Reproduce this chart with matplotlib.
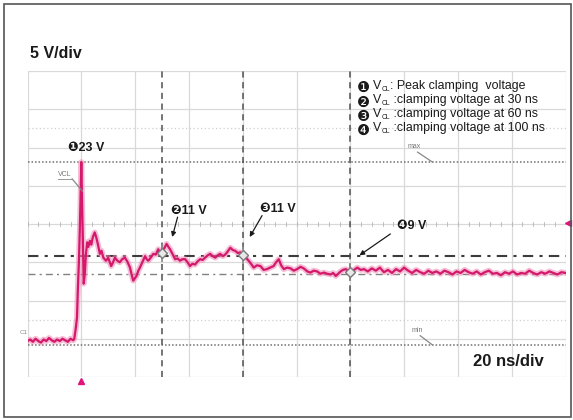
import matplotlib
matplotlib.use("Agg")
import matplotlib.pyplot as plt
from matplotlib.patches import Rectangle
import numpy as np

plt.rcParams['font.family'] = ['Liberation Sans', 'DejaVu Sans']

# ---------------- data (time in ns, voltage in V) ----------------
t_trace = [0, 1, 2, 3, 4, 5, 6, 7, 8, 9, 10, 11, 12, 13, 14, 15, 16, 17,
           17.4, 18.0, 18.4, 18.7, 19.1, 19.4, 19.7, 20.0, 20.2, 20.5, 20.9,
           21.3, 21.7, 22.2, 22.6, 23.2, 23.7, 24.3, 25.0, 25.6, 26.2, 26.9,
           27.5, 28.2, 29.2, 30.0, 31.1, 31.8, 32.5, 33.4, 34.3, 35.2, 36.2,
           37.1, 38.1, 38.7, 39.3, 39.9, 40.5, 41.2, 41.8, 42.7, 43.7, 44.3,
           44.9, 45.8, 46.8, 47.7, 48.6, 49.3, 49.9, 50.8, 51.7, 52.4, 53.0,
           54.0, 54.9, 55.8, 56.7, 57.6, 58.6, 59.5, 60.4, 61.3, 62.3, 63.2,
           64.2, 65.1, 66.0, 67.0, 67.9, 68.8, 69.8, 70.7, 71.6, 72.6, 73.5,
           74.4, 75.4, 76.3, 77.2, 78.2, 79.1, 80.3, 81.2, 82.2, 83.1, 84.1,
           85.3, 86.6, 87.8, 89.0, 90.2, 91.5, 92.4, 93.4, 94.3, 95.3, 96.5,
           97.8, 99.0, 100.2, 101.5, 102.7, 104.0, 105.2, 106.4, 107.7, 108.9,
           110.2, 111.4, 112.7, 113.6, 114.6, 115.5, 116.4, 117.3, 118.3,
           119.2, 120.2, 121.4, 122.6, 123.9, 125.1,
           126.5, 128, 129.5, 131, 132.5, 134, 135.5, 137, 138.5, 140, 141.5,
           143, 144.5, 146, 147.5, 149, 150.5, 152, 153.5, 155, 156.5, 158,
           159.5, 161, 162.5, 164, 165.5, 167, 168.5, 170, 171.5, 173, 174.5,
           176, 177.5, 179, 180.5, 182, 183.5, 185, 186.5, 188, 189.5, 191,
           192.5, 194, 195.5, 197, 198.5, 200]
v_trace = [-0.3, -0.1, -0.4, 0.0, -0.3, -0.5, -0.1, -0.3, 0.1, -0.2, -0.4,
           -0.1, -0.3, 0.0, -0.2, -0.4, 0.0, -0.2,
           0.0, 1.5, 2.8, 6.3, 10.0, 13.7, 18.0, 23.1, 19.5, 14.0, 7.2,
           8.5, 11.0, 12.6, 12.0, 12.8, 12.3, 13.3, 13.9, 13.2, 12.3, 11.1,
           11.5, 10.6, 10.2, 10.6, 9.5, 10.0, 10.6, 10.2, 10.0, 10.4, 10.6,
           10.1, 9.3, 8.4, 7.6, 7.9, 8.2, 8.9, 9.3, 10.0, 10.8, 10.4,
           10.2, 10.6, 11.1, 11.0, 11.7, 11.2, 11.5, 11.8, 12.4, 12.0, 11.7,
           11.0, 10.4, 10.5, 10.2, 10.4, 10.4, 10.0, 9.5, 9.8, 9.7, 10.1,
           10.4, 10.3, 10.6, 10.9, 11.1, 10.8, 10.6, 10.9, 11.1, 10.8, 11.0,
           11.4, 11.9, 11.6, 11.5, 11.2, 11.3, 11.0, 10.6, 10.2, 9.8, 9.3,
           9.6, 9.5, 9.0, 9.1, 9.3, 9.5, 10.0, 10.4, 9.6, 9.1, 9.3,
           9.2, 8.9, 9.1, 9.4, 9.2, 8.8, 8.65, 8.9, 8.8, 8.5,
           8.65, 8.5, 8.4, 8.6, 8.2, 8.5, 8.8, 9.0, 9.1,
           8.9, 8.7, 9.0, 9.3, 9.0, 9.1,
           8.8, 9.2, 8.9, 9.3, 8.7, 9.0, 8.6, 9.1, 8.8, 9.3, 8.9,
           8.6, 9.0, 8.7, 8.5, 8.9, 8.6, 8.8, 8.5, 8.9, 8.7, 8.4,
           8.8, 8.6, 9.0, 8.7, 8.5, 8.8, 8.4, 8.7, 8.9, 8.5, 8.6,
           8.3, 8.7, 8.5, 8.8, 8.4, 8.6, 8.5, 8.9, 8.6, 8.4, 8.7,
           8.5, 8.8, 8.6, 8.4, 8.7, 8.6]

cursor_times = [50, 80, 120]
cursor_volts = [11.2, 10.9, 8.7]
level_max = 23.1
level_min = -0.8
level_dash1 = 10.8
level_dash2 = 8.45

annot_labels = ["\u277623 V", "\u277711 V", "\u277811 V", "\u27799 V"]
legend_marks = ["\u2776", "\u2777", "\u2778", "\u2779"]
legend_rest = [": Peak clamping  voltage",
               " :clamping voltage at 30 ns",
               " :clamping voltage at 60 ns",
               " :clamping voltage at 100 ns"]

# ---------------- figure ----------------
fig = plt.figure(figsize=(5.73, 4.2), dpi=100)
fig.patch.set_facecolor('white')
ax = fig.add_axes([27.5/573, 1-377/420, 538/573, 306/420])
ax.set_xlim(0, 200)
ax.set_ylim(-5, 35)
ax.axis('off')

# frame of the whole picture
fig.add_artist(Rectangle((4/573, 3/420), 567/573, 413/420, transform=fig.transFigure,
                         fill=False, edgecolor='#555555', linewidth=1.2))

gcol = '#d9d9d9'
for xg in np.arange(0, 201, 20):
    ax.axvline(xg, color=gcol, lw=0.9, zorder=1)
for yg in np.arange(-5, 36, 5):
    ax.axhline(yg, color=gcol, lw=0.9, zorder=1)
# centre horizontal line with faint minor ticks
for xt in np.arange(0, 201, 4):
    ax.plot([xt, xt], [14.75, 15.25], color='#b5b5b5', lw=0.6, zorder=1)
# faint dotted lines
for yf in [27.5, 2.4]:
    ax.axhline(yf, color='#cfcfcf', lw=0.9, ls=(0, (1, 2)), zorder=1)

# max / min dotted lines
ax.axhline(level_max, color='#707070', lw=1.1, ls=(0, (1, 1.3)), zorder=2)
ax.axhline(level_min, color='#707070', lw=1.1, ls=(0, (1, 1.3)), zorder=2)
# dash-dot lines
ax.axhline(level_dash1, color='#3c3c3c', lw=1.5, ls=(0, (5, 3, 1.5, 3)), zorder=2)
ax.axhline(level_dash2, color='#808080', lw=1.0, ls=(0, (5, 3, 1.5, 3)), zorder=2)
# cursors
for tc in cursor_times:
    ax.axvline(tc, color='#505050', lw=1.1, ls=(0, (4, 3)), zorder=2)

# trace
ax.plot(t_trace, v_trace, color='#f08ab4', lw=4.2, alpha=0.55, zorder=3,
        solid_joinstyle='round')
ax.plot(t_trace, v_trace, color='#d4186c', lw=1.6, zorder=4,
        solid_joinstyle='round')

# cursor markers
ax.plot(cursor_times, cursor_volts, ls='none', marker='|', ms=13, mew=1.2,
        color='#8a8a8a', zorder=5)
ax.plot(cursor_times, cursor_volts, ls='none', marker='D', ms=5,
        mfc='#e8e8e8', mec='#7a7a7a', mew=1.0, zorder=6)

# small labels
ax.text(141.1, 25.1, 'max', fontsize=5, color='#777777', va='center', zorder=5)
ax.plot([145, 150.5], [24.4, 23.1], color='#888888', lw=0.9, zorder=5)
ax.text(142.6, 1.1, 'min', fontsize=5, color='#777777', va='center', zorder=5)
ax.plot([146, 150.5], [0.4, -0.8], color='#888888', lw=0.9, zorder=5)
ax.text(11.2, 21.5, 'VCL', fontsize=5, color='#777777', va='center', zorder=5)
ax.plot([11.2, 16.6], [20.9, 20.9], color='#999999', lw=0.7, zorder=5)
ax.plot([16.6, 20.4], [20.9, 19.3], color='#888888', lw=0.9, zorder=5)
ax.text(-3.0, 0.8, 'C1', fontsize=4.5, color='#888888', va='center', clip_on=False)
ax.plot([20], [-5.5], marker='^', ms=5, color='#e0147a', clip_on=False, zorder=6)
ax.plot([200.9], [15.1], marker='<', ms=5, color='#e0147a', clip_on=False, zorder=6)

# annotations
annot_pos = [(15.0, 24.9), (53.4, 16.7), (86.4, 16.9), (137.2, 14.7)]
for lab, (xa, ya) in zip(annot_labels, annot_pos):
    ax.text(xa, ya, lab, fontsize=9, fontweight='bold', color='#1a1a1a',
            va='center', ha='left', zorder=7)
arrows = [((55.8, 15.9), (53.8, 13.3)), ((87.2, 16.1), (82.6, 13.3)),
          ((134.9, 13.7), (123.4, 10.9))]
for (xs, ys), (xe, ye) in arrows:
    ax.annotate('', xy=(xe, ye), xytext=(xs, ys),
                arrowprops=dict(arrowstyle='-|>', color='#1a1a1a', lw=0.9,
                                mutation_scale=7, shrinkA=0, shrinkB=0), zorder=7)

# legend text (circle, V, subscript CL, rest)
leg_y = [33.1, 31.2, 29.4, 27.6]
for mark, rest, yl in zip(legend_marks, legend_rest, leg_y):
    ax.text(122.6, yl - 0.3, mark, fontsize=10.5, color='#1a1a1a', va='center',
            ha='left', family='DejaVu Sans', zorder=7)
    ax.annotate('V', xy=(128.4, yl), xytext=(0, 0), textcoords='offset points',
                fontsize=8.9, color='#1a1a1a', va='center', ha='left', zorder=7)
    ax.annotate('CL', xy=(128.4, yl), xytext=(6.1, -2.7), textcoords='offset points',
                fontsize=4.9, color='#1a1a1a', va='center', ha='left', zorder=7)
    ax.annotate(rest, xy=(128.4, yl), xytext=(12.0, 0), textcoords='offset points',
                fontsize=8.9, color='#1a1a1a', va='center', ha='left', zorder=7)

# division labels
fig.text(30/573, 1-54/420, '5 V/div', fontsize=11.5, fontweight='bold',
         color='#1a1a1a', va='center', ha='left')
ax.text(165.7, -2.95, '20 ns/div', fontsize=12, fontweight='bold',
        color='#1a1a1a', va='center', ha='left', zorder=7)

fig.savefig('out.png', dpi=100, facecolor='white')
